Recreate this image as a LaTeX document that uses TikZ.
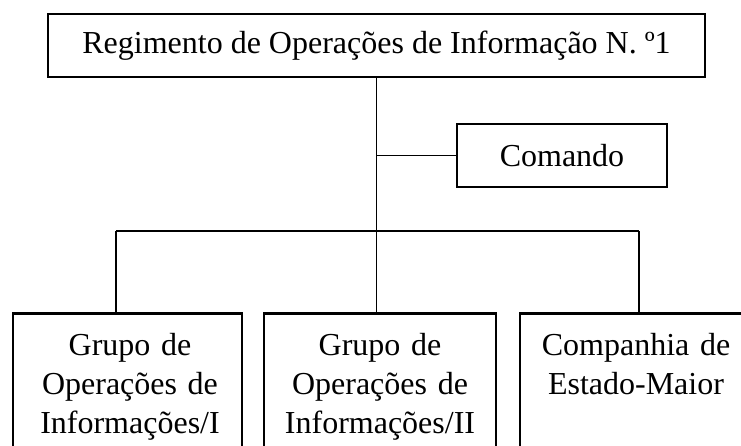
\documentclass[tikz,border=0pt]{standalone}
\usepackage{fontspec}
\setmainfont{Liberation Serif}
\usetikzlibrary{positioning}

\begin{document}
\begin{tikzpicture}[x=1pt,y=-1pt,
    unit/.style={draw,line width=2.6pt,inner sep=0pt},
    link/.style={line width=1.3pt},
    txt/.style={inner sep=0pt,align=center,text width=220pt,font=\fontsize{32}{39}\selectfont}]
    \useasboundingbox (0,0) rectangle (741,446);
    \clip (0,0) rectangle (741,446);
    % regimento e comando
    \node[unit,minimum width=657,minimum height=63,font=\fontsize{32}{39}\selectfont] (rgt) at (376.5,45.5) {Regimento de Operações de Informação N. º1};
    \node[unit,minimum width=210,minimum height=63,font=\fontsize{32}{39}\selectfont] (cmd) at (562,155.5) {Comando};
    % unidades
    \node[unit,minimum width=229,minimum height=160,anchor=north] (goi1) at (127.5,312) {};
    \node[unit,minimum width=232,minimum height=160,anchor=north] (goi2) at (380,312) {};
    \node[unit,minimum width=232,minimum height=160,anchor=north] (cem) at (636,312) {};
    \node[txt,anchor=base] (goi1t) at (130,355) {Grupo de\\Operações de\\Informações/I};
    \node[txt,anchor=base] (goi2t) at (380,355) {Grupo de\\Operações de\\Informações/II};
    \node[txt,anchor=base] (cemt) at (636,355) {Companhia de\\Estado-Maior};
    % ligacoes
    \coordinate (busL) at (116,231);
    \coordinate (busR) at (639,231);
    \draw[link] (rgt.south) -- (rgt.south |- goi2.north);
    \draw[link] (rgt.south |- cmd.west) -- (cmd.west);
    \draw[link] (busL) -- (busR);
    \draw[link] (busL) -- (busL |- goi1.north);
    \draw[link] (busR) -- (busR |- cem.north);
\end{tikzpicture}
\end{document}
